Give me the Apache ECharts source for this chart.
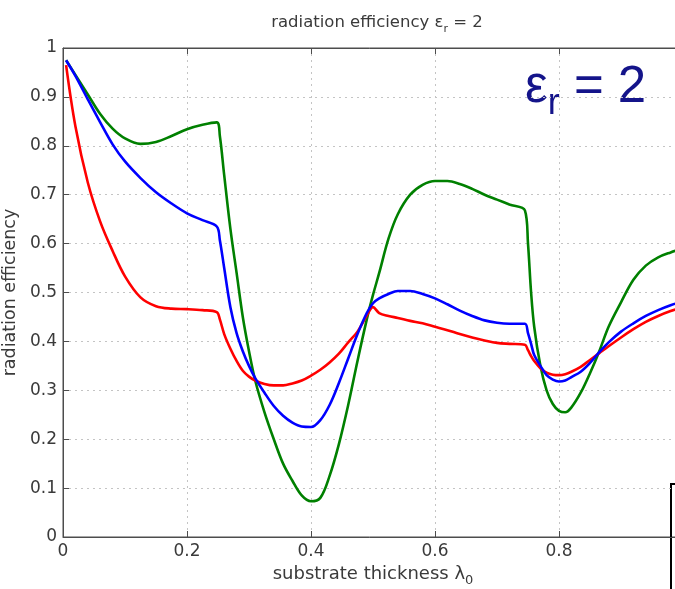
<!DOCTYPE html>
<html>
<head>
<meta charset="utf-8">
<title>radiation efficiency</title>
<script src="https://cdn.jsdelivr.net/npm/echarts@6/dist/echarts.min.js"></script>
<style>
  html, body { margin: 0; padding: 0; background: #fff; }
  #chart { width: 675px; height: 589px; }
</style>
</head>
<body>
<div id="chart"></div>
<script>
// substrate thickness (in wavelengths) - shared sample points
const thickness = [0.005, 0.02, 0.04, 0.06, 0.08, 0.1, 0.125, 0.15, 0.175, 0.2, 0.225, 0.248, 0.253, 0.26, 0.27, 0.28, 0.29, 0.3, 0.31, 0.325, 0.34, 0.355, 0.37, 0.385, 0.4, 0.415, 0.43, 0.445, 0.46, 0.475, 0.49, 0.5, 0.51, 0.525, 0.54, 0.56, 0.58, 0.6, 0.62, 0.64, 0.66, 0.68, 0.7, 0.72, 0.745, 0.75, 0.755, 0.76, 0.77, 0.78, 0.79, 0.8, 0.81, 0.82, 0.835, 0.85, 0.865, 0.88, 0.9, 0.92, 0.94, 0.96, 0.98, 1.0];

const greenEff = [0.975, 0.945, 0.905, 0.865, 0.835, 0.815, 0.804, 0.808, 0.82, 0.834, 0.843, 0.848, 0.82, 0.74, 0.63, 0.54, 0.45, 0.38, 0.32, 0.255, 0.2, 0.15, 0.115, 0.085, 0.073, 0.08, 0.125, 0.19, 0.27, 0.36, 0.445, 0.495, 0.54, 0.61, 0.66, 0.7, 0.72, 0.728, 0.728, 0.722, 0.712, 0.7, 0.69, 0.68, 0.668, 0.6, 0.5, 0.43, 0.35, 0.3, 0.272, 0.258, 0.255, 0.265, 0.295, 0.335, 0.38, 0.43, 0.48, 0.526, 0.555, 0.572, 0.582, 0.59];

const blueEff = [0.975, 0.943, 0.895, 0.848, 0.803, 0.768, 0.734, 0.705, 0.682, 0.662, 0.648, 0.635, 0.607, 0.55, 0.47, 0.417, 0.38, 0.35, 0.325, 0.295, 0.268, 0.248, 0.234, 0.226, 0.225, 0.239, 0.27, 0.315, 0.365, 0.415, 0.458, 0.478, 0.488, 0.497, 0.503, 0.503, 0.497, 0.488, 0.476, 0.463, 0.452, 0.443, 0.438, 0.436, 0.436, 0.417, 0.395, 0.372, 0.35, 0.331, 0.322, 0.318, 0.32, 0.327, 0.338, 0.356, 0.378, 0.398, 0.42, 0.437, 0.452, 0.464, 0.474, 0.482];

const redEff = [0.965, 0.84, 0.725, 0.645, 0.585, 0.533, 0.49, 0.472, 0.467, 0.466, 0.464, 0.46, 0.445, 0.415, 0.385, 0.36, 0.34, 0.328, 0.32, 0.313, 0.31, 0.31, 0.314, 0.32, 0.33, 0.342, 0.357, 0.375, 0.398, 0.42, 0.453, 0.47, 0.458, 0.452, 0.448, 0.442, 0.437, 0.43, 0.423, 0.415, 0.408, 0.402, 0.397, 0.395, 0.393, 0.382, 0.37, 0.36, 0.345, 0.336, 0.332, 0.331, 0.333, 0.338, 0.348, 0.362, 0.376, 0.39, 0.408, 0.425, 0.44, 0.452, 0.462, 0.47];

const FONT = "'DejaVu Sans', Verdana, sans-serif";
const BIG_FONT = "'Liberation Sans', Arial, Helvetica, sans-serif";
const AXIS_COLOR = "#4d4d4d";
const TEXT_COLOR = "#3a3a3a";

function pairs(ys) {
  return thickness.map((x, i) => [x, ys[i]]);
}

function lineSeries(name, color, ys) {
  return {
    name: name,
    type: "line",
    data: pairs(ys),
    showSymbol: false,
    smooth: 0.35,
    lineStyle: { color: color, width: 2.6 },
    itemStyle: { color: color },
  };
}

const chart = echarts.init(document.getElementById("chart"));

const option = {
  animation: false,
  backgroundColor: "#fff",
  title: {
    text: "radiation efficiency {e|ε}{s|r} = 2",
    left: 372,
    textAlign: "center",
    top: 5,
    textStyle: {
      fontFamily: FONT,
      fontSize: 16.5,
      fontWeight: "normal",
      color: TEXT_COLOR,
      rich: {
        e: { fontFamily: FONT, fontSize: 16.5, color: TEXT_COLOR },
        s: { fontFamily: FONT, fontSize: 11, color: TEXT_COLOR, padding: [14, 0, 0, 0] },
      },
    },
  },
  grid: {
    left: 63,
    top: 48,
    width: 620,
    height: 489,
    outerBoundsMode: "none",
    containLabel: false,
    show: true,
    borderColor: AXIS_COLOR,
    borderWidth: 1,
  },
  xAxis: [
    {
      type: "value",
      min: 0,
      max: 1,
      interval: 0.2,
      name: "substrate thickness {l|λ}{s|0}",
      nameLocation: "middle",
      nameGap: 25,
      nameTextStyle: {
        fontFamily: FONT,
        fontSize: 18,
        color: TEXT_COLOR,
        rich: {
          l: { fontFamily: FONT, fontSize: 18, color: TEXT_COLOR },
          s: { fontFamily: FONT, fontSize: 13, color: TEXT_COLOR, padding: [12, 0, 0, 0] },
        },
      },
      axisLine: { show: true, lineStyle: { color: AXIS_COLOR, width: 1 } },
      axisTick: { show: true, inside: true, length: 6, lineStyle: { color: AXIS_COLOR } },
      axisLabel: {
        fontFamily: FONT,
        fontSize: 17,
        color: TEXT_COLOR,
        margin: 6,
        formatter: (v) => String(+v.toFixed(1)),
      },
      splitLine: { show: true, lineStyle: { color: "#c4c4c4", type: [2, 4], width: 1 } },
    },
    {
      type: "value",
      position: "top",
      min: 0,
      max: 1,
      interval: 0.2,
      axisLine: { show: true, lineStyle: { color: AXIS_COLOR, width: 1 } },
      axisTick: { show: true, inside: true, length: 6, lineStyle: { color: AXIS_COLOR } },
      axisLabel: { show: false },
      splitLine: { show: false },
    },
  ],
  yAxis: {
    type: "value",
    min: 0,
    max: 1,
    interval: 0.1,
    name: "radiation efficiency",
    nameLocation: "middle",
    nameGap: 33,
    nameTextStyle: { fontFamily: FONT, fontSize: 17.5, color: TEXT_COLOR },
    axisLine: { show: true, lineStyle: { color: AXIS_COLOR, width: 1 } },
    axisTick: { show: true, inside: true, length: 6, lineStyle: { color: AXIS_COLOR } },
    axisLabel: {
      fontFamily: FONT,
      fontSize: 17,
      color: TEXT_COLOR,
      margin: 6,
      formatter: (v) => String(+v.toFixed(1)),
    },
    splitLine: { show: true, lineStyle: { color: "#c4c4c4", type: [2, 4], width: 1 } },
  },
  graphic: [
    {
      type: "text",
      left: 525,
      top: 62,
      style: {
        text: "{e|ε}{s|r}{n| = 2}",
        rich: {
          e: { fontFamily: BIG_FONT, fontSize: 51, fill: "#14148a" },
          s: { fontFamily: BIG_FONT, fontSize: 36, fill: "#14148a", padding: [34, 0, 0, 0] },
          n: { fontFamily: BIG_FONT, fontSize: 51, fill: "#14148a" },
        },
      },
    },
    {
      type: "polyline",
      shape: { points: [[676, 484], [671, 484], [671, 590]] },
      style: { stroke: "#000", lineWidth: 2, fill: null },
    },
  ],
  series: [
    lineSeries("green", "#008000", greenEff),
    lineSeries("red", "#ff0000", redEff),
    lineSeries("blue", "#0000ff", blueEff),
  ],
};

chart.setOption(option);
</script>
</body>
</html>
